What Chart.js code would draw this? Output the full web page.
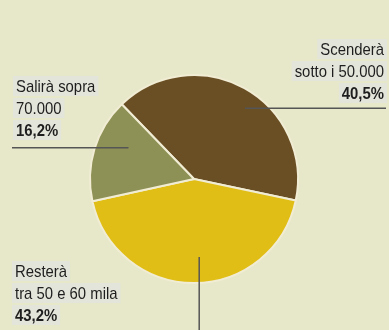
<!DOCTYPE html>
<html>
<head>
<meta charset="utf-8">
<script src="https://cdn.jsdelivr.net/npm/chart.js@4/dist/chart.umd.min.js"></script>
<style>
  html, body { margin: 0; padding: 0; background: #E7E8C9; }
  canvas { display: block; }
</style>
</head>
<body>
<canvas id="c" width="389" height="330"></canvas>
<script>
// Forecast share by income bracket
const categories = ['Scenderà sotto i 50.000', 'Resterà tra 50 e 60 mila', 'Salirà sopra 70.000'];
const shares = [40.5, 43.2, 16.2];
const labelLines = [['Scenderà', 'sotto i 50.000'], ['Resterà', 'tra 50 e 60 mila'], ['Salirà sopra', '70.000']];
const sliceColors = ['#6A4F24', '#E0BE16', '#8E9155'];

const fmtPct = v => v.toFixed(1).replace('.', ',') + '%';
const FONT = '"Liberation Sans", Arial, sans-serif';
const SQUEEZE = 0.875; // condensed look for the callout text

// Callout layout per slice: text anchor + leader line, relative to the pie centre/radius
const callouts = [
  { align: 'right', x: 384, y: 55, lead: (cx, cy, r) => [[cx + 0.49 * r, cy - 0.68 * r], [386, cy - 0.68 * r]] },
  { align: 'left',  x: 15,  y: 277, lead: (cx, cy, r) => [[cx + 0.05 * r, cy + 0.75 * r], [cx + 0.05 * r, 330]] },
  { align: 'left',  x: 16,  y: 92, lead: (cx, cy, r) => [[cx - 0.63 * r, cy - 0.30 * r], [12, cy - 0.30 * r]] }
];

const calloutPlugin = {
  id: 'callouts',
  afterDatasetsDraw(chart) {
    const ctx = chart.ctx;
    const meta = chart.getDatasetMeta(0);
    const arc0 = meta.data[0];
    const cx = arc0.x, cy = arc0.y, r = arc0.outerRadius;
    const lineGap = 22;
    ctx.save();
    callouts.forEach((c, i) => {
      const lines = labelLines[i].map(t => ({ text: t, bold: false }));
      lines.push({ text: fmtPct(shares[i]), bold: true });
      lines.forEach((ln, k) => {
        ctx.font = (ln.bold ? 'bold ' : '') + '17px ' + FONT;
        const w = ctx.measureText(ln.text).width * SQUEEZE;
        const y = c.y + k * lineGap;
        const x0 = c.align === 'right' ? c.x - w - 3 : c.x - 3;
        ctx.fillStyle = 'rgba(228,228,222,0.8)';
        ctx.fillRect(x0, y - 16, w + 6, 20);
      });
      lines.forEach((ln, k) => {
        ctx.save();
        ctx.font = (ln.bold ? 'bold ' : '') + '17px ' + FONT;
        ctx.fillStyle = '#1E1E1E';
        ctx.textAlign = c.align;
        ctx.textBaseline = 'alphabetic';
        ctx.translate(c.x, c.y + k * lineGap);
        ctx.scale(SQUEEZE, 1);
        ctx.fillText(ln.text, 0, 0);
        ctx.restore();
      });
      const [p, q] = c.lead(cx, cy, r);
      ctx.strokeStyle = '#555555';
      ctx.lineWidth = 1.5;
      ctx.beginPath();
      ctx.moveTo(p[0], p[1]);
      ctx.lineTo(q[0], q[1]);
      ctx.stroke();
    });
    ctx.restore();
  }
};

new Chart(document.getElementById('c'), {
  type: 'pie',
  data: {
    labels: categories,
    datasets: [{
      data: shares,
      backgroundColor: sliceColors,
      borderColor: '#F1ECD4',
      borderWidth: 2
    }]
  },
  options: {
    responsive: false,
    animation: false,
    rotation: 316,
    layout: { padding: { left: 89, right: 90, top: 74, bottom: 46 } },
    plugins: {
      legend: { display: false },
      tooltip: { enabled: false }
    }
  },
  plugins: [calloutPlugin]
});
</script>
</body>
</html>
